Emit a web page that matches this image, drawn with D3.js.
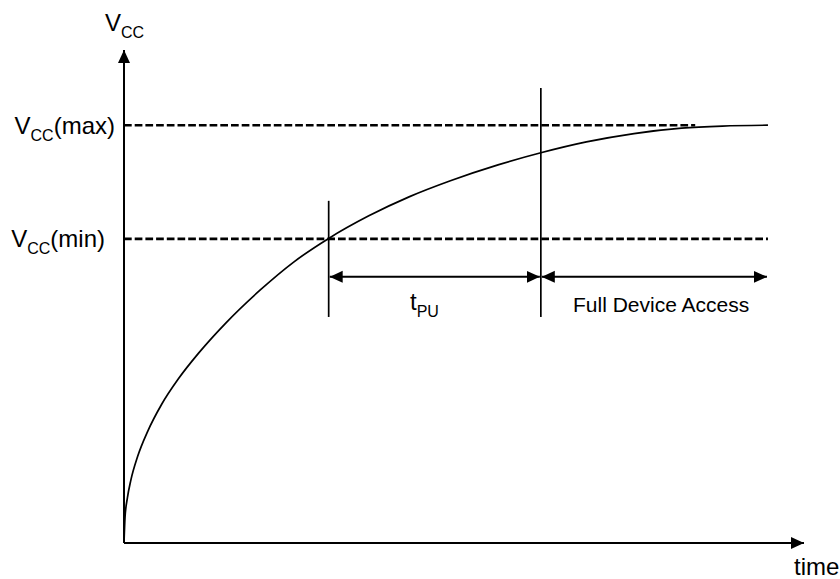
<!DOCTYPE html>
<html>
<head>
<meta charset="utf-8">
<script src="https://cdn.jsdelivr.net/npm/d3@7"></script>
<style>
  body { margin: 0; background: #fff; }
  text { font-family: "Liberation Sans", Arial, sans-serif; fill: #000; }
</style>
</head>
<body>
<script>
// power-up curve (time units 0..100, Vcc as fraction of Vcc(max))
var curveTime = [0, 0.15, 0.5, 1, 2, 3.5, 5.5, 8, 11, 15, 20, 25, 30.1, 36, 42, 48, 55, 61.3, 68, 75, 82, 88, 94.7]
var curveVcc  = [0, 0.061, 0.108, 0.150, 0.207, 0.268, 0.331, 0.393, 0.455, 0.527, 0.605, 0.673, 0.729, 0.783, 0.829, 0.867, 0.905, 0.934, 0.960, 0.980, 0.993, 0.998, 1.0]

// reference levels
var levelNames = ["max", "min"]
var levelVcc   = [1.0, 0.728]
var levelEnd   = [84.0, 94.7]

// vertical markers: time, top, bottom
var markerTime   = [30.1, 61.3]
var markerTop    = [0.819, 1.089]
var markerBottom = [0.541, 0.541]

// dimension arrows
var spanStart = [30.1, 61.3]
var spanEnd   = [61.3, 94.7]
var spanLevel = 0.637

var width = 840, height = 579
var x = d3.scaleLinear().domain([0, 100]).range([124, 804])
var y = d3.scaleLinear().domain([0, 1.18]).range([543, 50])

var svg = d3.select("body").append("svg")
  .attr("width", width)
  .attr("height", height)

var defs = svg.append("defs")
defs.append("marker")
  .attr("id", "head")
  .attr("viewBox", "0 0 13 13")
  .attr("refX", 13).attr("refY", 6.5)
  .attr("markerWidth", 13).attr("markerHeight", 13)
  .attr("markerUnits", "userSpaceOnUse")
  .attr("orient", "auto-start-reverse")
  .append("path")
  .attr("d", "M0,0.5 L13,6.5 L0,12.5 Z")
  .attr("fill", "#000")

// axes
svg.append("line")
  .attr("x1", x(0)).attr("y1", y(0))
  .attr("x2", x(0)).attr("y2", y(1.18))
  .attr("stroke", "#000").attr("stroke-width", 2)
  .attr("marker-end", "url(#head)")
svg.append("line")
  .attr("x1", x(0)).attr("y1", y(0))
  .attr("x2", x(100)).attr("y2", y(0))
  .attr("stroke", "#000").attr("stroke-width", 2)
  .attr("marker-end", "url(#head)")

// dashed levels
svg.selectAll(".level").data(levelVcc).enter().append("line")
  .attr("class", "level")
  .attr("x1", x(0))
  .attr("x2", function(d, i) { return x(levelEnd[i]) })
  .attr("y1", function(d) { return y(d) })
  .attr("y2", function(d) { return y(d) })
  .attr("stroke", "#000").attr("stroke-width", 2.6)
  .attr("stroke-dasharray", "7.7,3")

// curve
var pts = curveTime.map(function(t, i) { return [t, curveVcc[i]] })
svg.append("path")
  .datum(pts)
  .attr("fill", "none")
  .attr("stroke", "#000").attr("stroke-width", 1.7)
  .attr("d", d3.line()
    .x(function(d) { return x(d[0]) })
    .y(function(d) { return y(d[1]) })
    .curve(d3.curveMonotoneX))

// markers
svg.selectAll(".marker").data(markerTime).enter().append("line")
  .attr("class", "marker")
  .attr("x1", function(d) { return x(d) })
  .attr("x2", function(d) { return x(d) })
  .attr("y1", function(d, i) { return y(markerTop[i]) })
  .attr("y2", function(d, i) { return y(markerBottom[i]) })
  .attr("stroke", "#000").attr("stroke-width", 1.7)

// double arrows
svg.selectAll(".span").data(spanStart).enter().append("line")
  .attr("class", "span")
  .attr("x1", function(d) { return x(d) + 1 })
  .attr("x2", function(d, i) { return x(spanEnd[i]) - 1 })
  .attr("y1", y(spanLevel)).attr("y2", y(spanLevel))
  .attr("stroke", "#000").attr("stroke-width", 2)
  .attr("marker-start", "url(#head)")
  .attr("marker-end", "url(#head)")

// labels
function subLabel(px, py, main, sub, tail, anchor) {
  var t = svg.append("text")
    .attr("x", px).attr("y", py)
    .attr("font-size", 24)
    .attr("text-anchor", anchor)
  t.append("tspan").text(main)
  t.append("tspan").attr("font-size", 16).attr("dy", 7).text(sub)
  if (tail) t.append("tspan").attr("dy", -7).text(tail)
  return t
}

subLabel(105, 31, "V", "CC", null, "start")
levelNames.forEach(function(n, i) {
  subLabel(i == 0 ? 115 : 105, y(levelVcc[i]) + 8.5, "V", "CC", "(" + n + ")", "end")
})
subLabel(410, 310, "t", "PU", null, "start")

svg.append("text")
  .attr("x", 573).attr("y", 312)
  .attr("font-size", 21)
  .text("Full Device Access")

svg.append("text")
  .attr("x", 794).attr("y", 575)
  .attr("font-size", 24)
  .text("time")
</script>
</body>
</html>
